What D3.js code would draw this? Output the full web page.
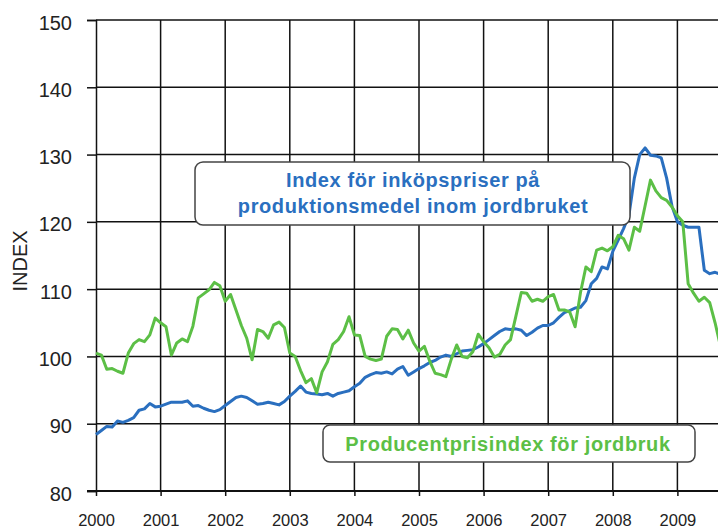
<!DOCTYPE html>
<html><head><meta charset="utf-8">
<script src="https://cdn.jsdelivr.net/npm/d3@7/dist/d3.min.js"></script>
<style>
html,body{margin:0;padding:0;background:#fff;}
svg{display:block;}
</style></head>
<body>
<svg id="chart" width="718" height="532"></svg>
<script>
// ---- data ----
const years = [2000,2001,2002,2003,2004,2005,2006,2007,2008,2009];
const yTicks = [80,90,100,110,120,130,140,150];
const startYear = 2000;
// Index för inköpspriser på produktionsmedel inom jordbruket (monthly from Jan 2000)
const inputPrices = [
  88.4,89.0,89.6,89.5,90.4,90.2,90.5,90.9,92.0,92.2,93.0,92.5,
  92.6,92.9,93.2,93.2,93.2,93.4,92.6,92.7,92.3,92.0,91.8,92.1,
  92.7,93.3,93.9,94.1,93.9,93.4,92.9,93.0,93.2,93.0,92.8,93.3,
  94.1,94.8,95.6,94.7,94.5,94.4,94.3,94.5,94.1,94.5,94.7,94.9,
  95.5,96.0,96.9,97.3,97.6,97.5,97.7,97.4,98.1,98.5,97.2,97.7,
  98.2,98.6,99.1,99.4,99.9,100.2,100.0,100.4,100.8,100.9,101.0,101.4,
  101.9,102.5,103.1,103.7,104.1,104.0,104.1,103.9,103.1,103.6,104.2,104.6,
  104.6,105.0,105.8,106.5,106.8,107.2,107.3,108.3,110.8,111.6,113.3,113.0,
  115.6,117.3,119.0,121.0,126.5,130.0,131.0,129.9,129.8,129.5,126.5,122.3,
  120.0,119.5,119.2,119.2,119.2,112.8,112.3,112.5,112.2
];
// Producentprisindex för jordbruk (monthly from Jan 2000)
const producerPrices = [
  100.5,100.2,98.1,98.2,97.8,97.5,100.5,101.9,102.5,102.2,103.2,105.7,
  105.0,104.4,100.2,102.0,102.6,102.2,104.5,108.7,109.3,109.9,111.0,110.5,
  108.2,109.2,106.9,104.6,102.7,99.5,104.0,103.7,102.7,104.7,105.1,104.3,
  100.5,100.0,97.9,96.1,96.7,94.6,97.7,99.2,101.8,102.5,103.7,105.9,
  103.2,103.1,100.0,99.6,99.4,99.6,103.0,104.1,104.0,102.6,103.9,102.0,
  100.8,101.5,99.3,97.5,97.3,97.0,99.6,101.7,100.0,99.8,100.7,103.3,
  102.2,101.3,99.9,100.3,101.7,102.5,106.0,109.5,109.4,108.2,108.5,108.2,
  108.9,109.2,106.9,106.9,106.6,104.4,109.5,113.3,112.6,115.8,116.1,115.7,
  116.3,118.0,117.5,115.8,119.2,118.6,122.4,126.2,124.6,123.6,123.2,122.2,
  120.9,120.0,110.8,109.4,108.2,108.8,108.0,105.0,101.5
];
const seriesNames = ["Index för inköpspriser på", "produktionsmedel inom jordbruket"];
const seriesName2 = "Producentprisindex för jordbruk";
const yTitle = "INDEX";

// ---- drawing ----
(function () {
const W = 718, H = 532;
const mLeft = 96, mTop = 20, mBottom = 491;
const svg = d3.select("#chart");
const x = d3.scaleLinear().domain([2000, 2010]).range([mLeft, mLeft + 646]);
const y = d3.scaleLinear().domain([80, 150]).range([mBottom, mTop]);
const blueC = "#2a6fbf", greenC = "#5cbf46", gridC = "#111";
const font = "'Liberation Sans', Arial, sans-serif";

// horizontal gridlines
svg.append("g").selectAll("line").data(yTicks.filter(v => v > 80)).join("line")
  .attr("x1", mLeft).attr("x2", W)
  .attr("y1", d => y(d)).attr("y2", d => y(d))
  .attr("stroke", gridC).attr("stroke-width", 1.5);
// vertical gridlines
svg.append("g").selectAll("line").data(years.slice(1)).join("line")
  .attr("x1", d => x(d)).attr("x2", d => x(d))
  .attr("y1", mTop).attr("y2", mBottom)
  .attr("stroke", gridC).attr("stroke-width", 1.5);

// y axis
const yAxis = svg.append("g").attr("transform", `translate(${mLeft},0)`)
  .call(d3.axisLeft(y).tickValues(yTicks).tickSize(9).tickPadding(15).tickFormat(d3.format("d")));
yAxis.select(".domain").attr("stroke", gridC).attr("stroke-width", 1.5);
yAxis.selectAll(".tick line").attr("stroke", gridC).attr("stroke-width", 1.5);
yAxis.selectAll("text").attr("font-family", font)
  .attr("font-size", 20).attr("fill", "#222").attr("dy", "0.45em");

// x axis
const xAxis = svg.append("g").attr("transform", `translate(0,${mBottom})`)
  .call(d3.axisBottom(x).tickValues(years).tickSize(5).tickPadding(18).tickFormat(d3.format("d")));
xAxis.select(".domain").attr("d", `M${mLeft - 9},0H${W}`).attr("stroke", gridC).attr("stroke-width", 2);
xAxis.selectAll(".tick line").attr("stroke", gridC).attr("stroke-width", 1.5);
xAxis.selectAll("text").attr("font-family", font)
  .attr("font-size", 16.5).attr("fill", "#222");

// y title
svg.append("text").attr("transform", "translate(27,261) rotate(-90)")
  .attr("text-anchor", "middle").attr("font-family", font)
  .attr("font-size", 20).attr("fill", "#222").text(yTitle);

// lines
const line = d3.line().x((d, i) => x(startYear + i / 12)).y(d => y(d));
svg.append("path").datum(inputPrices).attr("d", line)
  .attr("fill", "none").attr("stroke", blueC).attr("stroke-width", 3).attr("stroke-linejoin", "round");
svg.append("path").datum(producerPrices).attr("d", line)
  .attr("fill", "none").attr("stroke", greenC).attr("stroke-width", 3).attr("stroke-linejoin", "round");

// legend boxes
svg.append("rect").attr("x", 195).attr("y", 162).attr("width", 435).attr("height", 63).attr("rx", 8)
  .attr("fill", "#fff").attr("stroke", "#444").attr("stroke-width", 1.5);
svg.append("text").attr("x", 413).attr("y", 187).attr("text-anchor", "middle")
  .attr("font-family", font).attr("font-weight", "bold").attr("font-size", 20)
  .attr("letter-spacing", 0.6).attr("fill", blueC)
  .text(seriesNames[0]);
svg.append("text").attr("x", 413).attr("y", 213).attr("text-anchor", "middle")
  .attr("font-family", font).attr("font-weight", "bold").attr("font-size", 20)
  .attr("letter-spacing", 0.6).attr("fill", blueC)
  .text(seriesNames[1]);

svg.append("rect").attr("x", 323).attr("y", 425).attr("width", 372).attr("height", 37).attr("rx", 7)
  .attr("fill", "#fff").attr("stroke", "#444").attr("stroke-width", 1.5);
svg.append("text").attr("x", 508).attr("y", 451).attr("text-anchor", "middle")
  .attr("font-family", font).attr("font-weight", "bold").attr("font-size", 20)
  .attr("letter-spacing", 0.6).attr("fill", greenC)
  .text(seriesName2);
})();
</script>
</body></html>
